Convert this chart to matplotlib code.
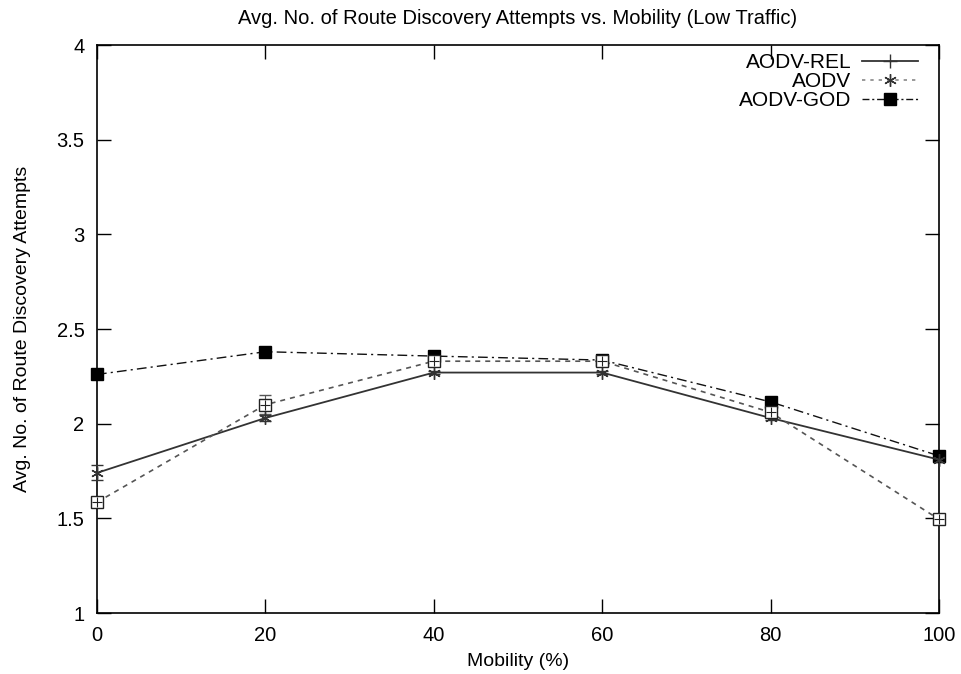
import matplotlib
matplotlib.use("Agg")
import matplotlib.pyplot as plt
from matplotlib.lines import Line2D

plt.rcParams['font.family'] = ['Liberation Sans', 'DejaVu Sans']

mobility = [0, 20, 40, 60, 80, 100]
aodv_rel = [1.74, 2.03, 2.27, 2.27, 2.03, 1.81]
aodv = [1.585, 2.10, 2.33, 2.33, 2.06, 1.495]
aodv_god = [2.26, 2.38, 2.357, 2.336, 2.115, 1.83]
aodv_rel_err = [0.04, 0.015, 0.01, 0.01, 0.01, 0.01]
aodv_err = [0.02, 0.05, 0.02, 0.01, 0.02, 0.01]

title = "Avg. No. of Route Discovery Attempts vs. Mobility (Low Traffic)"
xlabel = "Mobility (%)"
ylabel = "Avg. No. of Route Discovery Attempts"
xticks = [0, 20, 40, 60, 80, 100]
yticks = [1, 1.5, 2, 2.5, 3, 3.5, 4]
yticklabels = ["1", "1.5", "2", "2.5", "3", "3.5", "4"]

fig = plt.figure(figsize=(9.61, 6.74), dpi=100)
ax = fig.add_axes([0.1009, 0.0905, 0.8762, 0.8427])

ast = (6, 2, 0)
c_rel = '#333333'
c_aodv = '#555555'
c_god = '#111111'

# AODV-REL
ax.errorbar(mobility, aodv_rel, yerr=aodv_rel_err, color=c_rel, lw=1.3,
            ls='-', marker=ast, ms=9, mew=1.0, capsize=4, elinewidth=0.8,
            zorder=3, clip_on=False)
# AODV
ax.errorbar(mobility, aodv, yerr=aodv_err, color=c_aodv, lw=1.2,
            ls=(0, (3, 3)), marker='s', ms=8, mfc='white', mec='#222222',
            mew=1.0, capsize=4, elinewidth=0.8, zorder=3, clip_on=False)
ax.plot(mobility, aodv, ls='none', marker='+', ms=7, mew=0.8, color='#222222',
        zorder=4, clip_on=False)
# AODV-GOD
ax.plot(mobility, aodv_god, color=c_god, lw=1.0, ls=(0, (7, 3, 1.5, 3)),
        marker='s', ms=9, mfc='black', mec='black', zorder=3, clip_on=False)

ax.set_xlim(0, 100)
ax.set_ylim(1, 4)
ax.set_xticks(xticks)
ax.set_yticks(yticks)
ax.set_yticklabels(yticklabels)
ax.tick_params(direction='in', length=10, width=1, top=True, right=True,
               labelsize=14.5, pad=9)
for s in ax.spines.values():
    s.set_linewidth(1.2)

ax.set_title(title, fontsize=14.5, pad=15)
ax.set_xlabel(xlabel, fontsize=14, labelpad=6)
ax.set_ylabel(ylabel, fontsize=14, labelpad=18)

handles = [
    Line2D([], [], color=c_rel, lw=1.3, ls='-', marker='+', ms=10, mew=1.0),
    Line2D([], [], color='#888888', lw=1.2, ls=(0, (2, 3)), marker=ast, ms=9, mew=1.0, mec='#333333'),
    Line2D([], [], color=c_god, lw=1.0, ls=(0, (5, 2, 1.5, 2)), marker='s', ms=8, mfc='black', mec='black'),
]
ax.legend(handles, ["AODV-REL", "AODV", "AODV-GOD"], loc='upper right',
          bbox_to_anchor=(0.985, 1.0),
          frameon=False, markerfirst=False, fontsize=15, handlelength=2.7,
          labelspacing=0.0, borderaxespad=0.0, handletextpad=0.5)

fig.savefig("out.png", dpi=100)
